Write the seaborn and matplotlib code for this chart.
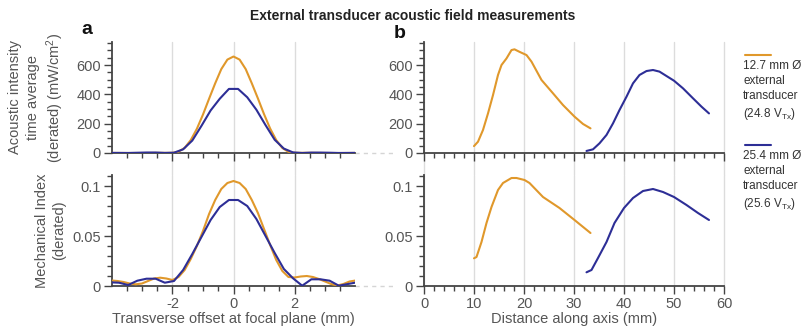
import pandas as pd
import seaborn as sns
import matplotlib.pyplot as plt
from matplotlib.lines import Line2D
from matplotlib.ticker import MultipleLocator

# Transverse profile at the focal plane, 12.7 mm transducer (0.2 mm steps)
offset_small = [-4.0, -3.8, -3.6, -3.4, -3.2, -3.0, -2.8, -2.6, -2.4, -2.2, -2.0,
                -1.8, -1.6, -1.4, -1.2, -1.0, -0.8, -0.6, -0.4, -0.2, 0.0,
                0.2, 0.4, 0.6, 0.8, 1.0, 1.2, 1.4, 1.6, 1.8, 2.0,
                2.2, 2.4, 2.6, 2.8, 3.0, 3.2, 3.4, 3.6, 3.8, 4.0]
intensity_small = [0.5, 0.4, 0.3, 0.1, 0.1, 0.1, 0.4, 0.9, 1.1, 0.9, 1.5,
                   9, 35, 88, 165, 262, 370, 475, 572, 637, 658,
                   637, 572, 475, 372, 265, 167, 88, 34, 8, 1.5,
                   1.2, 1.4, 1.2, 0.7, 0.3, 0.1, 0, 0.1, 0.3, 0.5]
mi_small = [0.0055, 0.005, 0.004, 0.0025, 0.0017, 0.0025, 0.005, 0.0075, 0.0083, 0.0075, 0.006,
            0.009, 0.016, 0.027, 0.040, 0.055, 0.072, 0.086, 0.097, 0.103, 0.105,
            0.103, 0.097, 0.086, 0.073, 0.057, 0.041, 0.026, 0.015, 0.009, 0.0085,
            0.0095, 0.010, 0.009, 0.007, 0.0045, 0.002, 0.0005, 0.002, 0.0045, 0.0055]

# Transverse profile at the focal plane, 25.4 mm transducer (0.3 mm steps)
offset_large = [-4.05, -3.75, -3.45, -3.15, -2.85, -2.55, -2.25, -1.95, -1.65, -1.35,
                -1.05, -0.75, -0.45, -0.15, 0.15, 0.45, 0.75, 1.05, 1.35, 1.65,
                1.95, 2.25, 2.55, 2.85, 3.15, 3.45, 3.75, 4.05]
intensity_large = [0.8, 0.6, 0.1, 1.7, 3.2, 3.2, 0.6, 2, 25, 85,
                   185, 290, 370, 437, 437, 380, 295, 190, 90, 30,
                   4, 0, 2.7, 2.7, 1.7, 0, 0.4, 1.0]
mi_large = [0.0037, 0.0033, 0.001, 0.0053, 0.0073, 0.0073, 0.0033, 0.005, 0.016, 0.032,
            0.049, 0.066, 0.079, 0.086, 0.086, 0.080, 0.067, 0.050, 0.033, 0.017,
            0.0077, 0.0003, 0.0067, 0.0067, 0.0053, 0.0003, 0.002, 0.0037]

# Axial profiles
axial_small_mm = [10.0, 10.8, 11.8, 12.8, 13.8, 14.8, 15.5, 16.5, 17.5, 18.1, 19.1,
                  20.5, 21.5, 23.5, 25.8, 27.8, 30.1, 31.8, 33.3]
axial_small_intensity = [47, 77, 157, 270, 395, 532, 600, 645, 702, 707, 690,
                         668, 623, 498, 407, 327, 248, 198, 168]
axial_small_mi_mm = [10.0, 10.5, 11.5, 12.5, 13.5, 14.8, 15.8, 17.5, 18.5, 20.1,
                     21.1, 23.8, 27.1, 30.1, 33.3]
axial_small_mi = [0.0277, 0.029, 0.044, 0.063, 0.079, 0.096, 0.103, 0.108, 0.108, 0.106,
                  0.103, 0.089, 0.078, 0.066, 0.053]

axial_large_mm = [32.5, 33.8, 35.1, 36.5, 37.8, 39.1, 40.5, 41.8, 43.1, 44.5,
                  45.8, 47.1, 48.5, 50.0, 51.8, 53.8, 55.5, 57.0]
axial_large_intensity = [14, 25, 66, 123, 202, 293, 384, 475, 532, 559,
                         566, 555, 525, 493, 441, 373, 316, 270]
axial_large_mi_mm = [32.5, 33.5, 34.8, 36.5, 38.1, 40.0, 41.8, 43.8, 45.8, 47.8,
                     50.0, 52.5, 54.8, 57.0]
axial_large_mi = [0.0137, 0.016, 0.028, 0.044, 0.063, 0.078, 0.088, 0.095, 0.097, 0.094,
                  0.089, 0.081, 0.073, 0.066]

labels = ["12.7 mm Ø\nexternal\ntransducer\n(24.8 V$_{\\mathregular{Tx}}$)",
          "25.4 mm Ø\nexternal\ntransducer\n(25.6 V$_{\\mathregular{Tx}}$)"]
colors = ["#E0982B", "#2D2E96"]
palette = dict(zip(labels, colors))


def frame(xs_a, ys_a, xs_b, ys_b):
    return pd.concat([
        pd.DataFrame({"x": xs_a, "y": ys_a, "transducer": labels[0]}),
        pd.DataFrame({"x": xs_b, "y": ys_b, "transducer": labels[1]}),
    ])


sns.set_theme(style="ticks")
plt.rcParams["font.family"] = ["Liberation Sans", "DejaVu Sans"]
plt.rcParams["axes.unicode_minus"] = False
plt.rcParams["mathtext.default"] = "regular"

W, H = 805, 331
fig = plt.figure(figsize=(W / 100, H / 100), dpi=100)


def rect(x0, x1, y0, y1):
    return [x0 / W, 1 - y1 / H, (x1 - x0) / W, (y1 - y0) / H]


ax_a1 = fig.add_axes(rect(112, 355, 42, 153))
ax_a2 = fig.add_axes(rect(112, 355, 175, 286))
ax_b1 = fig.add_axes(rect(424, 724, 42, 153))
ax_b2 = fig.add_axes(rect(424, 724, 175, 286))

panels = [
    (ax_a1, frame(offset_small, intensity_small, offset_large, intensity_large)),
    (ax_a2, frame(offset_small, mi_small, offset_large, mi_large)),
    (ax_b1, frame(axial_small_mm, axial_small_intensity, axial_large_mm, axial_large_intensity)),
    (ax_b2, frame(axial_small_mi_mm, axial_small_mi, axial_large_mi_mm, axial_large_mi)),
]

axis_col = "#444444"
text_col = "#555555"
grid_col = "#dcdcdc"
gap = (175 - 153) / 111

for i, (ax, df) in enumerate(panels):
    sns.lineplot(data=df, x="x", y="y", hue="transducer", hue_order=labels,
                 palette=palette, sort=False, estimator=None, legend=False,
                 lw=1.5, ax=ax, zorder=3)
    top = i in (0, 2)
    left = i in (0, 1)
    if left:
        ax.set_xlim(-3.98, 3.98)
        ax.xaxis.set_major_locator(MultipleLocator(2))
        ax.xaxis.set_minor_locator(MultipleLocator(0.5))
    else:
        ax.set_xlim(0, 60)
        ax.xaxis.set_major_locator(MultipleLocator(10))
        ax.xaxis.set_minor_locator(MultipleLocator(2))
    if top:
        ax.set_ylim(0, 757)
        ax.yaxis.set_major_locator(MultipleLocator(200))
        ax.yaxis.set_minor_locator(MultipleLocator(50))
    else:
        ax.set_ylim(0, 0.111)
        ax.yaxis.set_major_locator(MultipleLocator(0.05))
        ax.yaxis.set_minor_locator(MultipleLocator(0.01))
        ax.set_yticks([0, 0.05, 0.1], ["0", "0.05", "0.1"])

    sns.despine(ax=ax)
    for s in ("left", "bottom"):
        ax.spines[s].set_color(axis_col)
        ax.spines[s].set_linewidth(1.3)
    ax.tick_params(which="major", length=6, width=1, color=axis_col,
                   labelcolor=text_col, labelsize=10.5, pad=2)
    ax.tick_params(which="minor", length=3.5, width=1, color=axis_col)
    if top:
        ax.tick_params(axis="x", labelbottom=False)

    lo, hi = ax.get_xlim()
    for xv in ax.get_xticks():
        if lo - 1e-6 <= xv <= hi + 1e-6:
            ax.axvline(xv, ymin=-gap if top else 0, ymax=1, color=grid_col,
                       lw=1, zorder=0, clip_on=False)

    if left:
        ax.plot([1.0, 1.17], [0, 0], transform=ax.get_yaxis_transform(),
                color="#d5d5d5", lw=1, ls=(0, (3, 3)), clip_on=False, zorder=0)

    ax.set_xlabel("")
    ax.set_ylabel("")

ax_a1.set_ylabel("Acoustic intensity\ntime average\n(derated) (mW/cm$^2$)",
                 fontsize=10.5, color=text_col, linespacing=1.3)
ax_a2.set_ylabel("Mechanical Index\n(derated)", fontsize=10.5, color=text_col,
                 linespacing=1.3)
for ax in (ax_a1, ax_a2):
    ax.yaxis.set_label_coords(-0.19, 0.5)

ax_a2.set_xlabel("Transverse offset at focal plane (mm)", fontsize=10.5,
                 color=text_col, labelpad=1)
ax_b2.set_xlabel("Distance along axis (mm)", fontsize=10.5, color=text_col,
                 labelpad=1)

fig.text(413 / W, 1 - 16 / H, "External transducer acoustic field measurements",
         ha="center", va="center", fontsize=10, weight="bold", color="#222222")
fig.text(87 / W, 1 - 29 / H, "a", ha="center", va="center", fontsize=14,
         weight="bold", color="#111111")
fig.text(400 / W, 1 - 33 / H, "b", ha="center", va="center", fontsize=14,
         weight="bold", color="#111111")

# legend at the right: line sample above each label
for lab, col, y_line, y_text in zip(labels, colors, (55, 145), (60, 150)):
    fig.add_artist(Line2D([745 / W, 771 / W], [1 - y_line / H] * 2,
                          transform=fig.transFigure, color=col, lw=1.5))
    fig.text(743 / W, 1 - y_text / H, lab, ha="left", va="top", fontsize=8.5,
             color="#333333", linespacing=1.35)

fig.savefig("out.png", dpi=100)
